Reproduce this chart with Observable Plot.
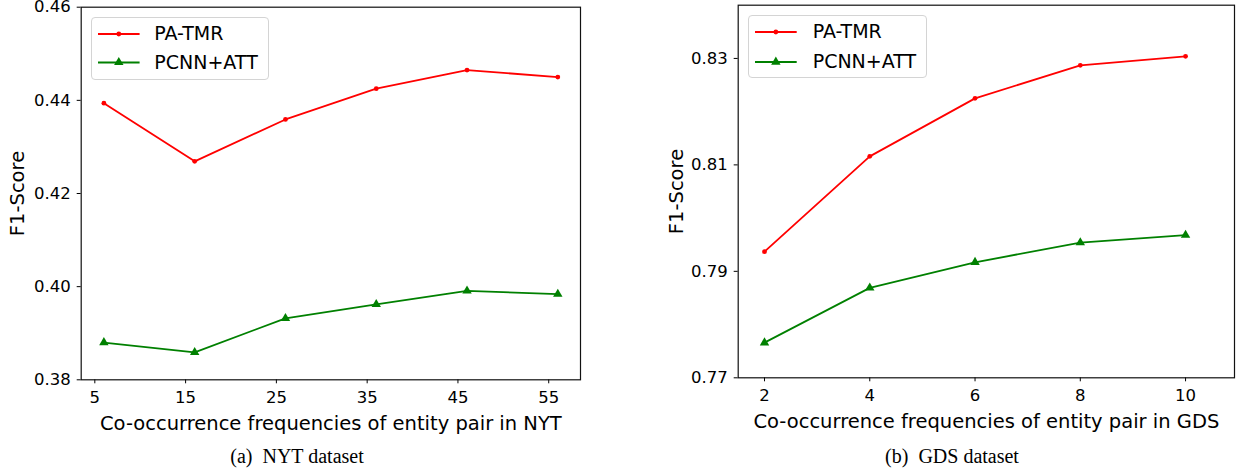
<!DOCTYPE html>
<html>
<head>
<meta charset="utf-8">
<script src="https://cdn.jsdelivr.net/npm/d3@7"></script>
<script src="https://cdn.jsdelivr.net/npm/@observablehq/plot@0.6"></script>
<style>
  html, body { margin: 0; padding: 0; background: #fff; }
  #root { position: relative; width: 1236px; height: 469px; overflow: hidden; background: #fff; font-family: "DejaVu Sans", sans-serif; }
  .panel { position: absolute; top: 0; }
  .legend { position: absolute; box-sizing: border-box; border: 1px solid #d4d4d4; border-radius: 4px; background: rgba(255,255,255,0.85); }
  .legend svg { position: absolute; left: 0; top: 0; overflow: visible; }
  .legend .lab { position: absolute; font-family: "DejaVu Sans", sans-serif; font-size: 19px; line-height: 19px; color: #000; white-space: nowrap; }
  .caption { position: absolute; top: 446px; font-family: "Liberation Serif", "Times New Roman", serif; font-size: 20px; line-height: 20px; color: #000; white-space: pre; transform: translateX(-50%); }
</style>
</head>
<body>
<div id="root"></div>
<script>
// ---- data ----
const seriesNames = ["PA-TMR", "PCNN+ATT"];
const seriesColors = ["#ff0000", "#008000"];

const nytX = [6, 16, 26, 36, 46, 56];
const nytPATMR = [0.4394, 0.4269, 0.4359, 0.4425, 0.4465, 0.4450];
const nytPCNN = [0.3880, 0.3859, 0.3932, 0.3962, 0.3991, 0.3984];
const nytXTicks = [5, 15, 25, 35, 45, 55];
const nytYTicks = [0.38, 0.40, 0.42, 0.44, 0.46];

const gdsX = [2, 4, 6, 8, 10];
const gdsPATMR = [0.7937, 0.8116, 0.8225, 0.8287, 0.8304];
const gdsPCNN = [0.7766, 0.7869, 0.7917, 0.7954, 0.7968];
const gdsXTicks = [2, 4, 6, 8, 10];
const gdsYTicks = [0.77, 0.79, 0.81, 0.83];

const captions = ["(a)  NYT dataset", "(b)  GDS dataset"];
const xLabels = ["Co-occurrence frequencies of entity pair in NYT", "Co-occurrence frequencies of entity pair in GDS"];
const yLabel = "F1-Score";

const root = document.getElementById("root");

function toRows(xs, ys) { return xs.map((x, i) => ({x, y: ys[i]})); }

function makePanel(cfg) {
  const a = toRows(cfg.xs, cfg.s1);
  const b = toRows(cfg.xs, cfg.s2);
  const chart = Plot.plot({
    width: cfg.width,
    height: cfg.height,
    marginLeft: cfg.ml, marginRight: cfg.mr, marginTop: cfg.mt, marginBottom: cfg.mb,
    style: {fontFamily: "DejaVu Sans", fontSize: "16.5px", color: "#000", background: "transparent", overflow: "visible"},
    x: {domain: cfg.xDomain},
    y: {domain: cfg.yDomain},
    marks: [
      Plot.axisX({ticks: cfg.xTicks, tickSize: 4, tickPadding: 7.5, label: null, fontSize: 16.5, strokeWidth: 1}),
      Plot.axisY({ticks: cfg.yTicks, tickSize: 4, tickPadding: 6.5, tickFormat: d3.format(".2f"), label: null, fontSize: 16.5, strokeWidth: 1}),
      Plot.axisX({ticks: [], tickSize: 0, label: cfg.xLabel, labelAnchor: "center", labelArrow: "none", labelOffset: cfg.xLabelOffset, fontSize: 19.5}),
      Plot.axisY({ticks: [], tickSize: 0, label: yLabel, labelAnchor: "center", labelArrow: "none", labelOffset: cfg.yLabelOffset, fontSize: 19.5}),
      Plot.line(a, {x: "x", y: "y", stroke: seriesColors[0], strokeWidth: 1.8}),
      Plot.dot(a, {x: "x", y: "y", r: 2.4, fill: seriesColors[0], stroke: "none"}),
      Plot.line(b, {x: "x", y: "y", stroke: seriesColors[1], strokeWidth: 1.8}),
      Plot.dot(b, {x: "x", y: "y", r: 3.5, symbol: "triangle", fill: seriesColors[1], stroke: "none"}),
      Plot.frame({stroke: "#111", strokeWidth: 1.2})
    ]
  });
  const wrap = document.createElement("div");
  wrap.className = "panel";
  wrap.style.left = cfg.left + "px";
  wrap.appendChild(chart);
  root.appendChild(wrap);

  // legend
  const lg = document.createElement("div");
  lg.className = "legend";
  lg.style.left = cfg.legend.left + "px";
  lg.style.top = cfg.legend.top + "px";
  lg.style.width = cfg.legend.w + "px";
  lg.style.height = cfg.legend.h + "px";
  const ns = "http://www.w3.org/2000/svg";
  const svg = document.createElementNS(ns, "svg");
  svg.setAttribute("width", cfg.legend.w);
  svg.setAttribute("height", cfg.legend.h);
  seriesNames.forEach((name, i) => {
    const yy = cfg.legend.rows[i];
    const line = document.createElementNS(ns, "line");
    line.setAttribute("x1", cfg.legend.x1); line.setAttribute("x2", cfg.legend.x2);
    line.setAttribute("y1", yy); line.setAttribute("y2", yy);
    line.setAttribute("stroke", seriesColors[i]); line.setAttribute("stroke-width", 2);
    svg.appendChild(line);
    const cx = (cfg.legend.x1 + cfg.legend.x2) / 2;
    if (i === 0) {
      const c = document.createElementNS(ns, "circle");
      c.setAttribute("cx", cx); c.setAttribute("cy", yy); c.setAttribute("r", 2.4);
      c.setAttribute("fill", seriesColors[i]);
      svg.appendChild(c);
    } else {
      const p = document.createElementNS(ns, "path");
      p.setAttribute("d", d3.symbol(d3.symbolTriangle, Math.PI * 3.5 * 3.5)());
      p.setAttribute("transform", `translate(${cx},${yy})`);
      p.setAttribute("fill", seriesColors[i]);
      svg.appendChild(p);
    }
    const t = document.createElement("div");
    t.className = "lab";
    t.textContent = name;
    t.style.left = cfg.legend.tx + "px";
    t.style.top = (yy - 10) + "px";
    lg.appendChild(t);
  });
  lg.appendChild(svg);
  root.appendChild(lg);

  const cap = document.createElement("div");
  cap.className = "caption";
  cap.textContent = cfg.caption;
  cap.style.left = cfg.capX + "px";
  root.appendChild(cap);
}

makePanel({
  left: 0, width: 600, height: 440, ml: 80.7, mr: 20, mt: 6.7, mb: 60.7,
  xs: nytX, s1: nytPATMR, s2: nytPCNN, xTicks: nytXTicks, yTicks: nytYTicks,
  xDomain: [3.5, 58.5], yDomain: [0.38, 0.46],
  xLabel: xLabels[0], xLabelOffset: 50, yLabelOffset: 71,
  legend: {left: 90.7, top: 17.3, w: 178.6, h: 62.7, rows: [16, 44.4], x1: 6, x2: 47.6, tx: 62.6},
  caption: captions[0], capX: 297
});

makePanel({
  left: 630, width: 606, height: 440, ml: 107.7, mr: 2, mt: 4.7, mb: 62.7,
  xs: gdsX, s1: gdsPATMR, s2: gdsPCNN, xTicks: gdsXTicks, yTicks: gdsYTicks,
  xDomain: [1.5, 10.93], yDomain: [0.77, 0.84],
  xLabel: xLabels[1], xLabelOffset: 50, yLabelOffset: 69,
  legend: {left: 748.3, top: 15, w: 179, h: 63.3, rows: [16, 46], x1: 6, x2: 47.7, tx: 63.4},
  caption: captions[1], capX: 952
});
</script>
</body>
</html>
